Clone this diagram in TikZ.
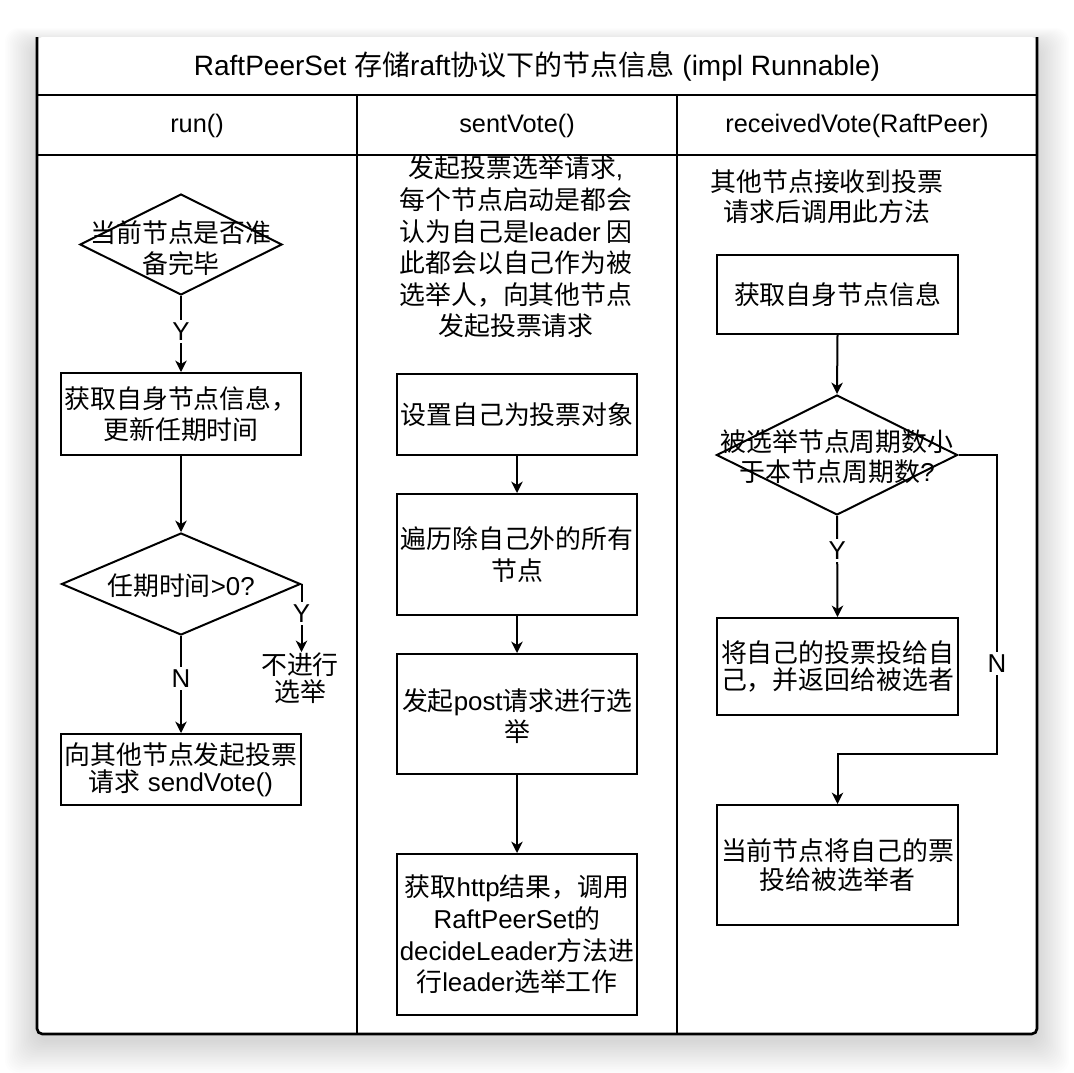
\documentclass[tikz,border=0pt]{standalone}
\usepackage{fontspec}
\setmainfont{Noto Sans CJK SC}
\newfontfamily\lat{Liberation Sans}
\usetikzlibrary{shapes.geometric,arrows.meta,fit}
\begin{document}
\begin{tikzpicture}[x=0.75pt,y=-0.75pt,
  arr/.style={-{Stealth[length=8.5pt,width=8.5pt,inset=2.5pt]}, line width=1.5pt},
  stepbox/.style={draw, line width=1.5pt, inner sep=0pt},
  dec/.style={draw, diamond, inner sep=0pt, line width=1.5pt},
  txt/.style={align=center, inner sep=0pt, font=\fontsize{19.4pt}{23.7pt}\selectfont},
  tighttxt/.style={txt, font=\fontsize{19.4pt}{20.5pt}\selectfont},
  lbl/.style={fill=white, inner sep=2pt, font=\lat\fontsize{19.4pt}{23pt}\selectfont},
  hdr/.style={inner sep=0pt, font=\lat\fontsize{19pt}{23pt}\selectfont},
  grid/.style={line width=1.6pt}
]
\useasboundingbox (0,0) rectangle (1074,1072);
\fill[white] (0,0) rectangle (1074,1072);
% window shadow
\foreach \i in {1,...,20}{
  \fill[black,opacity=0.0075,rounded corners=10pt] (37-1.6*\i,46-0.9*\i) rectangle (1037+1.6*\i,1040+1.7*\i);
}
\fill[white, rounded corners=4pt] (37,37) rectangle (1037,1034);
\draw[line width=2pt, rounded corners=4pt] (37,37) -- (37,1034) -- (1037,1034) -- (1037,37);
% table grid
\draw[grid] (37,95) -- (1037,95);
\draw[grid] (37,155) -- (1037,155);
\draw[grid] (357,95) -- (357,1034);
\draw[grid] (677,95) -- (677,1034);

\node[hdr, font=\fontsize{21pt}{24pt}\selectfont] (title) at (537,66) {{\lat RaftPeerSet }存储{\lat raft}协议下的节点信息{\lat\ (impl Runnable)}};
\node[hdr] (h1) at (197,126) {run()};
\node[hdr] (h2) at (517,126) {sentVote()};
\node[hdr] (h3) at (857,126) {receivedVote(RaftPeer)};

% ---- column 1: run()
\node[dec, minimum width=151.5pt, minimum height=75.75pt] (d1) at (181,244.5) {};
\node[txt] (d1t) at (181,248) {当前节点是否准\\备完毕};
\node[stepbox, fit={(61,373) (301,455)}] (b1) {};
\node[txt] (b1t) at (b1.center) {获取自身节点信息，\\更新任期时间};
\node[dec, minimum width=179.25pt, minimum height=76.5pt] (d2) at (181,584) {};
\node[txt] (d2t) at (181,586) {任期时间{\lat >0?}};
\node[tighttxt, anchor=north] (nogo) at (300,652) {不进行\\选举};
\node[stepbox, fit={(61,734) (301,805)}] (b3) {};
\node[tighttxt] (b3t) at (b3.center) {向其他节点发起投票\\请求{\lat\ sendVote()}};

\draw[arr] (d1.south) -- node[lbl, pos=0.47] {Y} (b1.north);
\draw[arr] (b1.south) -- (d2.north);
\draw[arr] (d2.east) -- node[lbl, pos=0.43] {Y} (d2.east |- nogo.north);
\draw[arr] (d2.south) -- node[lbl, pos=0.44] {N} (b3.north);

% ---- column 2: sentVote()
\node[txt] (desc2) at (516,247) {发起投票选举请求{\lat ,}\\每个节点启动是都会\\认为自己是{\lat leader} 因\\此都会以自己作为被\\选举人，向其他节点\\发起投票请求};
\node[stepbox, fit={(397,374) (637,455)}] (bA) {};
\node[txt] (bAt) at (bA.center) {设置自己为投票对象};
\node[stepbox, fit={(397,494) (637,615)}] (bB) {};
\node[txt] (bBt) at (bB.center) {遍历除自己外的所有\\节点};
\node[stepbox, fit={(397,654) (637,774)}] (bC) {};
\node[txt] (bCt) at ([yshift=-1.5pt]bC.center) {发起{\lat post}请求进行选\\举};
\node[stepbox, fit={(397,854) (637,1015)}] (bD) {};
\node[txt] (bDt) at (bD.center) {获取{\lat http}结果，调用\\{\lat RaftPeerSet}的\\{\lat decideLeader}方法进\\行{\lat leader}选举工作};

\draw[arr] (bA.south) -- (bB.north);
\draw[arr] (bB.south) -- (bC.north);
\draw[arr] (bC.south) -- (bD.north);

% ---- column 3: receivedVote(RaftPeer)
\node[txt, font=\fontsize{19.4pt}{22.5pt}\selectfont] (desc3) at (827,197) {其他节点接收到投票\\请求后调用此方法};
\node[stepbox, fit={(717,255) (958,334)}] (bE) {};
\node[txt] (bEt) at (bE.center) {获取自身节点信息};
\node[dec, minimum width=180.75pt, minimum height=90pt] (d3) at (837,455) {};
\node[tighttxt, font=\fontsize{19.4pt}{22.5pt}\selectfont] (d3t) at (837,457) {被选举节点周期数小\\于本节点周期数{\lat ?}};
\node[stepbox, fit={(717,618) (958,715)}] (bF) {};
\node[tighttxt] (bFt) at (bF.center) {将自己的投票投给自\\己，并返回给被选者};
\node[stepbox, fit={(717,805) (958,925)}] (bG) {};
\node[tighttxt, font=\fontsize{19.4pt}{22pt}\selectfont] (bGt) at (bG.center) {当前节点将自己的票\\投给被选举者};
\coordinate (nturn) at (997,754);

\draw[arr] (bE.south) -- (d3.north);
\draw[arr] (d3.south) -- node[lbl, pos=0.34] {Y} (bF.north);
\draw[arr] (d3.east) -- (nturn |- d3.east) -- node[lbl, pos=0.696] {N} (nturn) -- (nturn -| bG.north) -- (bG.north);
\end{tikzpicture}
\end{document}
